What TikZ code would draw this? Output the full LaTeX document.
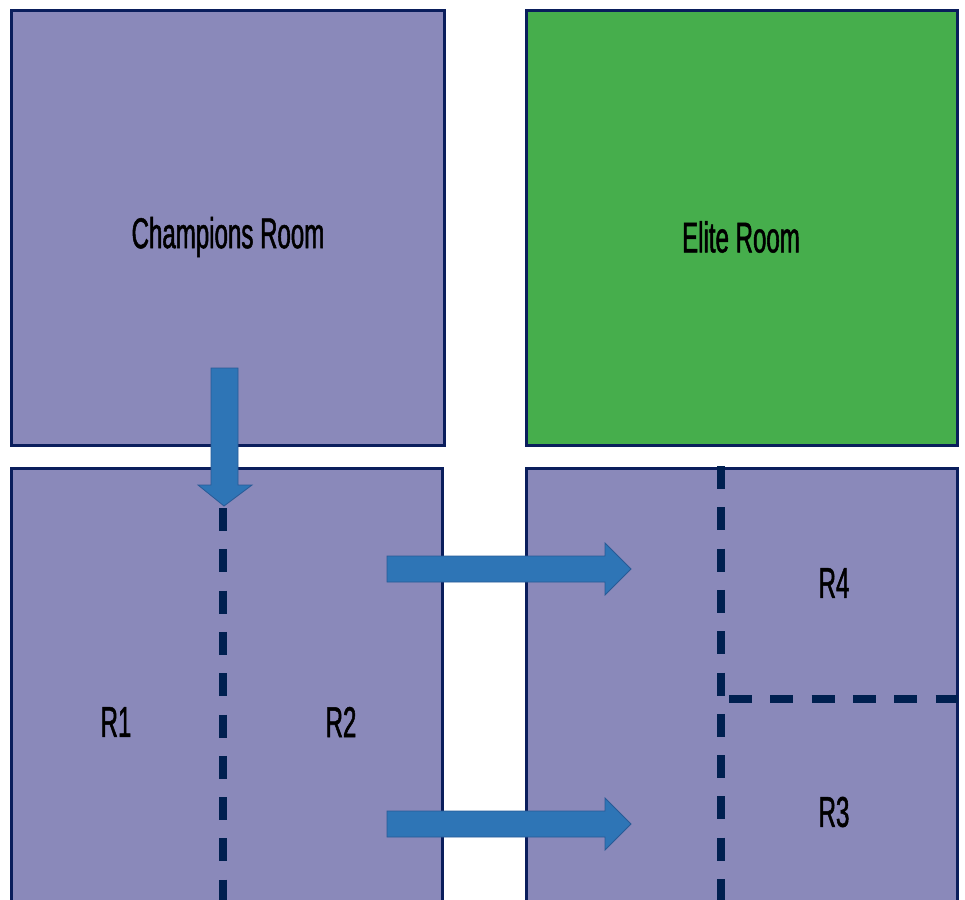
\documentclass[tikz,border=0pt]{standalone}
\usepackage{fontspec}
\setmainfont{Liberation Sans}[FakeStretch=0.56,FakeBold=1.2]
\definecolor{roomfill}{RGB}{138,137,186}
\definecolor{elitefill}{RGB}{70,174,76}
\definecolor{roomline}{RGB}{10,30,92}
\definecolor{wallline}{RGB}{0,32,80}
\definecolor{arrowfill}{RGB}{46,117,182}
\definecolor{arrowline}{RGB}{40,90,150}
\tikzset{
  room/.style={fill=roomfill,draw=roomline,line width=3pt},
  label/.style={font=\fontsize{43}{43}\selectfont},
  wall/.style={draw=wallline,line width=7.5pt,dash pattern=on 23pt off 18.3pt},
  blockarrow/.style={fill=arrowfill,draw=arrowline,line width=0.8pt}
}
\begin{document}
\begin{tikzpicture}[x=1pt,y=-1pt]
\useasboundingbox (0,0) rectangle (965,899);
% rooms
\draw[room] (11,11) rectangle (444,445);
\draw[room,fill=elitefill] (526,11) rectangle (957,445);
\draw[room] (11,468) rectangle (442,910);
\draw[room] (526,468) rectangle (957,910);
% texts
\node[label] (champ) at (228,237) {Champions Room};
\node[label] (elite) at (741,237) {Elite Room};
\node[label] (r1) at (116,722) {R1};
\node[label] (r2) at (341,722) {R2};
\node[label] (r4) at (834,583) {R4};
\node[label] (r3) at (834,812) {R3};
% walls
\draw[wall] (223,508) -- (223,905);
\draw[wall] (721,466) -- (721,905);
\draw[wall] (729,699) -- (958,699);
% arrows
\draw[blockarrow] (211,368) -- (238,368) -- (238,485) -- (252,485) -- (224,506)
  -- (198,485) -- (211,485) -- cycle;
\foreach \y in {0,255}
\draw[blockarrow,shift={(0,\y)}] (387,556) -- (605,556) -- (605,543) -- (631,569)
  -- (605,595) -- (605,582) -- (387,582) -- cycle;
\end{tikzpicture}
\end{document}
